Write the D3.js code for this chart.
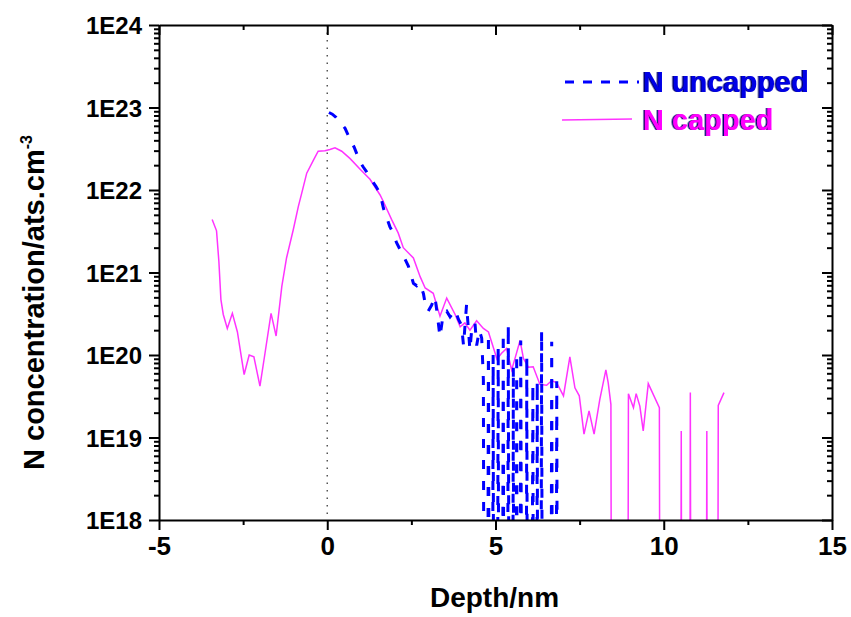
<!DOCTYPE html>
<html>
<head>
<meta charset="utf-8">
<script src="https://cdn.jsdelivr.net/npm/d3@7"></script>
<style>
  body { margin: 0; background: #fff; }
  svg text { font-family: "Liberation Sans", Arial, sans-serif; }
  .axis path, .axis line { stroke: #000; stroke-width: 2; }
</style>
</head>
<body>
<div id="chart"></div>
<script>
// N uncapped (blue dashed) : depth (nm) / concentration (ats.cm-3), 0 = below detection
var depthUncapped = [0.05, 0.15, 0.26, 0.40, 0.53, 0.68, 0.80, 0.87, 0.97, 1.07, 1.17, 1.32, 1.45, 1.57, 1.67, 1.77, 1.86, 1.96, 2.06, 2.21, 2.31, 2.41, 2.56, 2.66, 2.76, 2.86, 2.91, 3.00, 3.10, 3.20, 3.27, 3.35, 3.45, 3.55, 3.65, 3.80, 3.90, 3.99, 4.05, 4.14, 4.24, 4.30, 4.39, 4.44, 4.52, 4.59, 4.64, 4.71, 4.79, 4.86, 4.93, 4.99, 5.08, 5.15, 5.23, 5.30, 5.38, 5.46, 5.53, 5.58, 5.63, 5.68, 5.75, 5.86, 5.93, 6.00, 6.11, 6.18, 6.24, 6.30, 6.37, 6.45, 6.60, 6.67, 6.75, 6.82, 6.90];
var concUncapped = [8.7e22, 8.3e22, 7.6e22, 6.5e22, 5.6e22, 4.1e22, 3.3e22, 2.8e22, 2.2e22, 1.9e22, 1.66e22, 1.32e22, 1.1e22, 9.1e21, 6.0e21, 4.6e21, 3.6e21, 3.0e21, 2.3e21, 1.74e21, 1.45e21, 1.2e21, 7.4e20, 6.9e20, 7.4e20, 5.5e20, 4.2e20, 3.4e20, 4.0e20, 5.1e20, 3.1e20, 1.66e20, 3.2e20, 3.4e20, 2.9e20, 3.5e20, 2.7e20, 2.3e20, 1.3e20, 4.1e20, 1.15e20, 2.2e20, 2.45e20, 1.3e20, 2.0e20, 1.6e20, 5.0e19, 0, 1.8e20, 0, 1.0e20, 0, 1.26e20, 0, 1.86e20, 0, 2.3e20, 0, 7.2e19, 0, 1.05e20, 0, 1.5e20, 0, 9.5e19, 0, 4.5e19, 0, 4.8e19, 0, 1.95e20, 0, 0, 1.45e20, 0, 4.8e19, 0];

// N capped (magenta solid)
var depthCapped = [-3.42, -3.29, -3.22, -3.16, -3.09, -2.97, -2.82, -2.67, -2.47, -2.32, -2.18, -2.00, -1.85, -1.67, -1.52, -1.35, -1.21, -1.01, -0.86, -0.76, -0.61, -0.41, -0.27, -0.07, 0.08, 0.23, 0.43, 0.68, 0.97, 1.27, 1.57, 1.67, 1.91, 2.11, 2.26, 2.56, 2.76, 2.91, 3.15, 3.35, 3.55, 3.80, 3.95, 4.09, 4.24, 4.44, 4.64, 4.79, 4.99, 5.04, 5.18, 5.33, 5.48, 5.58, 5.73, 5.83, 5.98, 6.12, 6.32, 6.52, 6.67, 6.82, 7.02, 7.21, 7.36, 7.49, 7.63, 7.78, 7.93, 8.10, 8.28, 8.35, 8.43, 8.50, 8.88, 8.95, 9.10, 9.18, 9.29, 9.39, 9.54, 9.87, 9.94, 10.45, 10.52, 10.59, 10.72, 10.79, 10.86, 11.21, 11.28, 11.35, 11.55, 11.62, 11.79];
var concCapped = [4.4e21, 3.2e21, 1.35e21, 4.7e20, 3.1e20, 2.1e20, 3.2e20, 1.9e20, 5.8e19, 1.0e20, 9.5e19, 4.2e19, 1.05e20, 3.2e20, 1.7e20, 6.8e20, 1.5e21, 3.3e21, 6.3e21, 9.1e21, 1.6e22, 2.3e22, 2.95e22, 3.0e22, 3.1e22, 3.25e22, 2.95e22, 2.4e22, 1.8e22, 1.35e22, 8.7e21, 7.2e21, 4.4e21, 3.0e21, 2.0e21, 1.5e21, 8.9e20, 6.5e20, 5.6e20, 2.95e20, 4.9e20, 3.1e20, 2.2e20, 2.45e20, 2.0e20, 2.6e20, 2.1e20, 1.9e20, 1.05e20, 8.9e19, 1.05e20, 1.2e20, 6.6e19, 9.1e19, 1.5e20, 9.1e19, 7.1e19, 7.2e19, 4.4e19, 4.3e19, 4.9e19, 4.6e19, 3.2e19, 9.5e19, 4.0e19, 3.2e19, 1.1e19, 2.1e19, 1.1e19, 2.9e19, 6.6e19, 4.6e19, 2.5e19, 0, 0, 3.4e19, 2.3e19, 3.4e19, 2.4e19, 1.2e19, 4.5e19, 2.3e19, 0, 0, 1.2e19, 0, 0, 3.5e19, 0, 0, 1.2e19, 0, 0, 2.45e19, 3.5e19];

// axis ticks
var xTicks = [-5, 0, 5, 10, 15];
var xTickLabels = ["-5", "0", "5", "10", "15"];
var xMinorTicks = [-2.5, 2.5, 7.5, 12.5];
var yTicks = [1e18, 1e19, 1e20, 1e21, 1e22, 1e23, 1e24];
var yTickLabels = ["1E18", "1E19", "1E20", "1E21", "1E22", "1E23", "1E24"];

var seriesNames = ["N uncapped", "N capped"];
var seriesColors = ["#0000ff", "#ff33ff"];

// zero readings are pushed far below the axis so they drop straight down
var FLOOR = 1e4;

function drawChart(chartarea) {

	var margin = {left: 159, right: 19, top: 25, bottom: 97};
	var width = 851 - margin.left - margin.right,
		height = 617 - margin.top - margin.bottom;

	var svg = d3.select(chartarea)
		.append("svg")
			.attr("width", width + margin.left + margin.right)
			.attr("height", height + margin.top + margin.bottom);

	var canvas = svg.append("g")
		.attr("transform", "translate(" + margin.left + "," + margin.top + ")");

	// scales
	var x = d3.scaleLinear()
		.domain([-5, 15])
		.range([0, width]);

	var y = d3.scaleLog()
		.domain([1e18, 1e24])
		.range([height, 0]);

	var defs = svg.append("defs");
	defs.append("clipPath")
		.attr("id", "plot-clip")
		.append("rect")
			.attr("width", width)
			.attr("height", height);

	// dark edge on the legend text, like the original
	defs.append("filter")
		.attr("id", "edge")
		.append("feDropShadow")
			.attr("dx", -1.5)
			.attr("dy", 0)
			.attr("stdDeviation", 0)
			.attr("flood-color", "#00006e");

	// dotted line at depth 0
	canvas.append("line")
		.attr("x1", x(0))
		.attr("x2", x(0))
		.attr("y1", 0)
		.attr("y2", height)
		.attr("stroke", "#555")
		.attr("stroke-width", 1.5)
		.attr("stroke-dasharray", "1.5,6");

	var line = d3.line()
		.x(function(d){ return x(d[0]) })
		.y(function(d){ return y(d[1] > 0 ? d[1] : FLOOR) });

	var plot = canvas.append("g").attr("clip-path", "url(#plot-clip)");

	plot.append("path")
		.datum(d3.zip(depthCapped, concCapped))
		.attr("fill", "none")
		.attr("stroke", seriesColors[1])
		.attr("stroke-width", 1.5)
		.attr("d", line);

	plot.append("path")
		.datum(d3.zip(depthUncapped, concUncapped))
		.attr("fill", "none")
		.attr("stroke", seriesColors[0])
		.attr("stroke-width", 3)
		.attr("stroke-dasharray", "9,12")
		.attr("d", line);

	// bottom axis
	canvas.append("g")
		.attr("class", "axis")
		.attr("transform", "translate(0," + height + ")")
		.call(d3.axisBottom(x).tickValues(xMinorTicks).tickSize(5).tickFormat(""))
		.call(function(g){ g.select(".domain").remove() });

	canvas.append("g")
		.attr("class", "axis x-axis")
		.attr("transform", "translate(0," + height + ")")
		.call(d3.axisBottom(x).tickValues(xTicks).tickSize(10).tickSizeOuter(0)
			.tickFormat(function(d, i){ return xTickLabels[i] }))
	.selectAll("text")
		.attr("y", 17)
		.attr("font-size", "26px")
		.attr("font-weight", "bold")
		.attr("fill", "#000");

	// top axis (mirror, inward)
	canvas.append("g")
		.attr("class", "axis")
		.call(d3.axisBottom(x).tickValues(xMinorTicks).tickSize(5).tickFormat(""))
		.call(function(g){ g.select(".domain").remove() });

	canvas.append("g")
		.attr("class", "axis")
		.call(d3.axisBottom(x).tickValues(xTicks).tickSize(10).tickSizeOuter(0).tickFormat(""));

	// left axis
	var yMinorTicks = [];
	yTicks.slice(0, -1).forEach(function(dec){
		for (var k = 2; k <= 9; k++) yMinorTicks.push(dec * k);
	});

	canvas.append("g")
		.attr("class", "axis")
		.call(d3.axisLeft(y).tickValues(yMinorTicks).tickSize(5).tickFormat(""))
		.call(function(g){ g.select(".domain").remove() });

	canvas.append("g")
		.attr("class", "axis y-axis")
		.call(d3.axisLeft(y).tickValues(yTicks).tickSize(10).tickSizeOuter(0)
			.tickFormat(function(d, i){ return yTickLabels[i] }))
	.selectAll("text")
		.attr("x", -17)
		.attr("dy", "0.36em")
		.attr("font-size", "24px")
		.attr("font-weight", "bold")
		.attr("fill", "#000");

	// right axis (mirror, inward)
	canvas.append("g")
		.attr("class", "axis")
		.attr("transform", "translate(" + width + ",0)")
		.call(d3.axisLeft(y).tickValues(yMinorTicks).tickSize(5).tickFormat(""))
		.call(function(g){ g.select(".domain").remove() });

	canvas.append("g")
		.attr("class", "axis")
		.attr("transform", "translate(" + width + ",0)")
		.call(d3.axisLeft(y).tickValues(yTicks).tickSize(10).tickSizeOuter(0).tickFormat(""));

	// x label
	canvas.append("text")
		.attr("x", width / 2 - 1)
		.attr("y", height + 87)
		.attr("font-size", "28px")
		.attr("font-weight", "bold")
		.attr("text-anchor", "middle")
		.text("Depth/nm");

	// y label
	var yLabel = svg.append("text")
		.attr("transform", "translate(44,470) rotate(-90)")
		.attr("font-size", "29px")
		.attr("font-weight", "bold")
		.attr("text-anchor", "start");
	yLabel.append("tspan").text("N concentration/ats.cm");
	yLabel.append("tspan")
		.attr("dy", "-0.75em")
		.attr("font-size", "16px")
		.text("-3");

	// legend
	var legend = canvas.append("g")
		.attr("transform", "translate(" + (565 - margin.left) + "," + (82 - margin.top) + ")");

	seriesNames.forEach(function(name, i){
		var row = legend.append("g")
			.attr("transform", "translate(0," + (i * 38) + ")");

		row.append("line")
			.attr("x1", i == 0 ? 0 : -3)
			.attr("x2", i == 0 ? 74 : 67)
			.attr("y1", 0)
			.attr("y2", i == 0 ? 0 : -1)
			.attr("stroke", seriesColors[i])
			.attr("stroke-width", i == 0 ? 3 : 1.5)
			.attr("stroke-dasharray", i == 0 ? "9,9" : null);

		row.append("text")
			.attr("x", 78)
			.attr("y", 10)
			.attr("font-size", "29px")
			.attr("font-weight", "bold")
			.attr("fill", i == 0 ? "#0000e6" : "#ff00ff")
			.attr("filter", "url(#edge)")
			.text(name);
	});
}

drawChart("#chart");
</script>
</body>
</html>
